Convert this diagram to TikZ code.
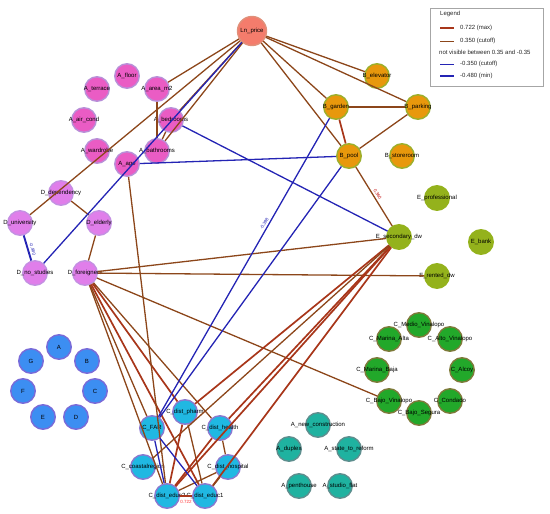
\documentclass[tikz,border=0pt]{standalone}
\usepackage{fontspec}
\setmainfont{Liberation Sans}
\definecolor{lnfill}{HTML}{F47C6C}
\definecolor{lnbord}{HTML}{E0907A}
\definecolor{afill}{HTML}{EA5CC4}
\definecolor{abord}{HTML}{B890D8}
\definecolor{dfill}{HTML}{E07EEA}
\definecolor{dbord}{HTML}{C490E2}
\definecolor{bfill}{HTML}{E8980C}
\definecolor{bbord}{HTML}{9CB02C}
\definecolor{efill}{HTML}{94B21C}
\definecolor{cgfill}{HTML}{22A82A}
\definecolor{cgbord}{HTML}{7E7A3A}
\definecolor{lbfill}{HTML}{3C8EF2}
\definecolor{lbbord}{HTML}{7A6AD8}
\definecolor{ccfill}{HTML}{20B8E2}
\definecolor{ccbord}{HTML}{8A78D0}
\definecolor{tfill}{HTML}{1FB2A0}
\definecolor{tbord}{HTML}{5E8E8E}
\definecolor{posc}{HTML}{8C461A}
\definecolor{poss}{HTML}{A8361A}
\definecolor{negc}{HTML}{2424B4}
\begin{document}
\begin{tikzpicture}[x=1pt,y=-1pt,
  vn/.style={circle, inner sep=0pt, minimum size=24.5pt, line width=1.4pt},
  lbl/.style={font=\fontsize{6}{7}\selectfont, inner sep=0pt, text=black},
  lnode/.style={vn, minimum size=29pt, fill=lnfill, draw=lnbord},
  anode/.style={vn, fill=afill, draw=abord},
  dnode/.style={vn, fill=dfill, draw=dbord},
  bnode/.style={vn, fill=bfill, draw=bbord},
  enode/.style={vn, fill=efill, draw=efill},
  cgnode/.style={vn, fill=cgfill, draw=cgbord},
  lbnode/.style={vn, fill=lbfill, draw=lbbord},
  ccnode/.style={vn, fill=ccfill, draw=ccbord},
  tnode/.style={vn, fill=tfill, draw=tbord},
  posedge/.style={draw=posc, line width=1.3pt},
  posstrong/.style={draw=poss, line width=1.7pt},
  posmax/.style={draw=poss, line width=2.4pt},
  negedge/.style={draw=negc, line width=1.3pt},
  negmax/.style={draw=negc, line width=1.9pt},
  elab/.style={font=\fontsize{4.5}{5}\selectfont, inner sep=0.5pt},
  legtext/.style={font=\fontsize{6}{7}\selectfont, inner sep=0pt, anchor=west, text=black!85}
]
\useasboundingbox (0,0) rectangle (550,514);

% Ln_price
\node[lnode, label={[lbl]center:Ln\_price}] (lnprice) at (252,31) {};
% A cluster
\node[anode, label={[lbl]center:A\_floor}] (afloor) at (127,76) {};
\node[anode, label={[lbl]center:A\_terrace}] (aterrace) at (97,89) {};
\node[anode, label={[lbl]center:A\_area\_m2}] (aarea) at (157,89) {};
\node[anode, label={[lbl]center:A\_air\_cond}] (aaircond) at (84,120) {};
\node[anode, label={[lbl]center:A\_bedrooms}] (abed) at (171,120) {};
\node[anode, label={[lbl]center:A\_wardrobe}] (award) at (97,151) {};
\node[anode, label={[lbl]center:A\_bathrooms}] (abath) at (157,151) {};
\node[anode, label={[lbl]center:A\_age}] (aage) at (127,164) {};
% D cluster
\node[dnode, label={[lbl]center:D\_dependency}] (ddep) at (61,193) {};
\node[dnode, label={[lbl]center:D\_university}] (duni) at (20,223) {};
\node[dnode, label={[lbl]center:D\_elderly}] (deld) at (99,223) {};
\node[dnode, label={[lbl]center:D\_no\_studies}] (dnos) at (35,273) {};
\node[dnode, label={[lbl]center:D\_foreigners}] (dfor) at (85,273) {};
% B cluster
\node[bnode, label={[lbl]center:B\_elevator}] (bele) at (377,76) {};
\node[bnode, label={[lbl]center:B\_garden}] (bgar) at (336,107) {};
\node[bnode, label={[lbl]center:B\_parking}] (bpar) at (418,107) {};
\node[bnode, label={[lbl]center:B\_pool}] (bpool) at (349,156) {};
\node[bnode, label={[lbl]center:B\_storeroom}] (bsto) at (402,156) {};
% E cluster
\node[enode, label={[lbl]center:E\_professional}] (epro) at (437,198) {};
\node[enode, label={[lbl]center:E\_secondary\_dw}] (esec) at (399,237) {};
\node[enode, label={[lbl]center:E\_bank}] (ebank) at (481,242) {};
\node[enode, label={[lbl]center:E\_rented\_dw}] (erent) at (437,276) {};
% C regions
\node[cgnode, label={[lbl]center:C\_Medio\_Vinalopo}] (cmedio) at (419,325) {};
\node[cgnode, label={[lbl]center:C\_Marina\_Alta}] (cmalta) at (389,339) {};
\node[cgnode, label={[lbl]center:C\_Alto\_Vinalopo}] (calto) at (450,339) {};
\node[cgnode, label={[lbl]center:C\_Marina\_Baja}] (cmbaja) at (377,370) {};
\node[cgnode, label={[lbl]center:C\_Alcoy}] (calcoy) at (462,370) {};
\node[cgnode, label={[lbl]center:C\_Bajo\_Vinalopo}] (cbvin) at (389,401) {};
\node[cgnode, label={[lbl]center:C\_Condado}] (ccond) at (450,401) {};
\node[cgnode, label={[lbl]center:C\_Bajo\_Segura}] (cbseg) at (419,413) {};
% letters
\node[lbnode, label={[lbl]center:A}] (la) at (59,347) {};
\node[lbnode, label={[lbl]center:G}] (lg) at (31,361) {};
\node[lbnode, label={[lbl]center:B}] (lb) at (87,361) {};
\node[lbnode, label={[lbl]center:F}] (lf) at (23,391) {};
\node[lbnode, label={[lbl]center:C}] (lc) at (95,391) {};
\node[lbnode, label={[lbl]center:E}] (le) at (43,417) {};
\node[lbnode, label={[lbl]center:D}] (ld) at (76,417) {};
% C distances
\node[ccnode, label={[lbl]center:C\_dist\_pharm}] (cpharm) at (185,412) {};
\node[ccnode, label={[lbl]center:C\_FAR}] (cfar) at (152,428) {};
\node[ccnode, label={[lbl]center:C\_dist\_health}] (chealth) at (220,428) {};
\node[ccnode, label={[lbl]center:C\_coastalregion}] (ccoast) at (143,467) {};
\node[ccnode, label={[lbl]center:C\_dist\_hospital}] (chosp) at (228,467) {};
\node[ccnode, label={[lbl]center:C\_dist\_educ2}] (ceduc2) at (167,496) {};
\node[ccnode, label={[lbl]center:C\_dist\_educ1}] (ceduc1) at (205,496) {};
% A types
\node[tnode, label={[lbl]center:A\_new\_construction}] (anew) at (318,425) {};
\node[tnode, label={[lbl]center:A\_duplex}] (adup) at (289,449) {};
\node[tnode, label={[lbl]center:A\_state\_to\_reform}] (astate) at (349,449) {};
\node[tnode, label={[lbl]center:A\_penthouse}] (apent) at (299,486) {};
\node[tnode, label={[lbl]center:A\_studio\_flat}] (astudio) at (340,486) {};

% positive edges
\draw[posedge] (lnprice) -- (aarea);
\draw[posedge] (lnprice) -- (abed);
\draw[posedge] (lnprice) -- (abath);
\draw[posedge] (lnprice) -- (duni);
\draw[posedge] (lnprice) -- (bele);
\draw[posedge] (lnprice) -- (bpar);
\draw[posedge] (lnprice) -- (bgar);
\draw[posedge] (lnprice) -- (bpool);
\draw[posedge] (aarea) -- (abath);
\draw[posedge] (abed) -- (abath);
\draw[posedge] (bgar) -- (bpar);
\draw[posstrong] (bgar) -- (bpool);
\draw[posedge] (bpool) -- (bpar);
\draw[posedge] (bpool) -- node[elab, pos=0.5, sloped, above=1.5pt, text=red!75!black] {0.360} (esec);
\draw[posedge] (ddep) -- (deld);
\draw[posedge] (deld) -- (dfor);
\draw[posedge] (dfor) -- (esec);
\draw[posedge] (dfor) -- (erent);
\draw[posedge] (dfor) -- (cbvin);
\draw[posedge] (dfor) -- (ceduc2);
\draw[posedge] (dfor) -- (cfar);
\draw[posstrong] (dfor) -- (ceduc1);
\draw[posstrong] (dfor) -- (cpharm);
\draw[posedge] (dfor) -- (chealth);
\draw[posedge] (aage) -- (ceduc2);
\draw[posstrong] (esec) -- (cpharm);
\draw[posstrong] (esec) -- (chealth);
\draw[posstrong] (esec) -- (ceduc2);
\draw[posstrong] (esec) -- (ceduc1);
\draw[posedge] (esec) -- (ccoast);
\draw[posedge] (cpharm) -- (ceduc1);
\draw[posstrong] (cpharm) -- (ceduc2);
\draw[posstrong] (chealth) -- (ceduc2);
\draw[posedge] (chealth) -- (chosp);
\draw[posedge] (chosp) -- (ceduc1);
\draw[posedge] (chosp) -- (ceduc2);
\draw[posmax] (ceduc2) -- node[elab, below=3pt, text=red!80] {0.722} (ceduc1);
% negative edges
\draw[negedge] (lnprice) -- (dnos);
\draw[negedge] (abed) -- (esec);
\draw[negedge] (aage) -- (bpool);
\draw[negedge] (bgar) -- node[elab, pos=0.36, sloped, above=1.5pt, text=negc] {-0.398} (cfar);
\draw[negedge] (bpool) -- (cfar);
\draw[negmax] (duni) -- node[elab, pos=0.6, sloped, above=1.5pt, text=negc] {-0.480} (dnos);
\draw[negedge] (cfar) -- (ceduc1);
\draw[negedge] (cfar) -- (ceduc2);

% legend
\draw[gray!70, line width=0.6pt] (430,8) rectangle (543,86);
\node[legtext] (lgtitle) at (440,14) {Legend};
\coordinate (l1a) at (440,28); \coordinate (l1b) at (454,28);
\draw[posmax] (l1a) -- (l1b);
\node[legtext] (lg1) at (460,28) {0.722 (max)};
\coordinate (l2a) at (440,41); \coordinate (l2b) at (454,41);
\draw[draw=posc, line width=0.9pt] (l2a) -- (l2b);
\node[legtext] (lg2) at (460,41) {0.350 (cutoff)};
\node[legtext] (lg3) at (439,52.5) {not visible between 0.35 and -0.35};
\coordinate (l4a) at (440,64); \coordinate (l4b) at (454,64);
\draw[draw=negc, line width=0.9pt] (l4a) -- (l4b);
\node[legtext] (lg4) at (460,64) {-0.350 (cutoff)};
\coordinate (l5a) at (440,76); \coordinate (l5b) at (454,76);
\draw[negmax] (l5a) -- (l5b);
\node[legtext] (lg5) at (460,76) {-0.480 (min)};
\end{tikzpicture}
\end{document}
